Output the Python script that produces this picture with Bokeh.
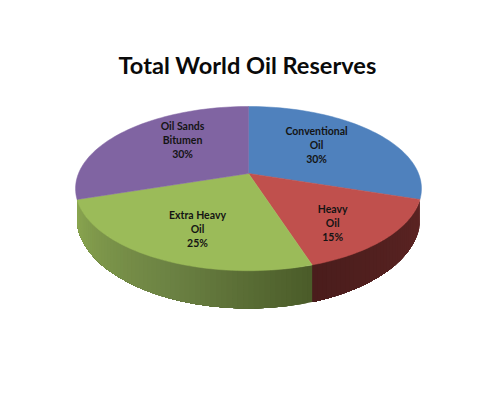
import math
from bokeh.plotting import figure
from bokeh.embed import file_html
from bokeh.resources import INLINE
from bokeh.core.properties import value

# --- chart data ---
title = "Total World Oil Reserves"
categories = ["Conventional\nOil", "Heavy\nOil", "Extra Heavy\nOil", "Oil Sands\nBitumen"]
shares = [30, 15, 25, 30]
colors = ["#4f81bd", "#c0504d", "#9bbb59", "#8064a2"]

# --- look of the sides: (fraction across the wedge, colour) ---
side_stops = {
    1: [(0.0, (0x5c, 0x24, 0x23)), (1.0, (0x4a, 0x1d, 0x1c))],
    2: [(0.0, (0x4a, 0x5b, 0x29)), (0.45, (0x6c, 0x82, 0x43)), (1.0, (0x8a, 0xa6, 0x50))],
}

# --- projection of the tilted disc, in page pixels ---
CX, APEX_Y, RX, K, B = 248.0, 173.0, 170.0, 0.184, -47.5
BOT_CY, BOT_RX, BOT_RY = 217.0, 172.0, 91.0
# label anchors relative to each wedge: (angle shift in degrees, radius on the unit disc)
label_anchor = [(-6.4, 0.581), (6.3, 0.711), (-3.6, 0.67), (11, 0.616)]
LINE_STEP = 14.0
FONT = "Lato"


def project(r, deg):
    t = math.radians(deg)
    s, c = r * math.sin(t), r * math.cos(t)
    d = 1 + K * c
    return CX + RX * s / d, (APEX_Y + B * c) / d


def bottom_y(x):
    u = min(abs(x - CX) / BOT_RX, 1.0)
    return BOT_CY + BOT_RY * math.sqrt(1 - u * u)


def lerp_color(stops, f):
    for (f0, c0), (f1, c1) in zip(stops, stops[1:]):
        if f <= f1:
            w = (f - f0) / (f1 - f0)
            break
    rgb = [round(a + (b - a) * w) for a, b in zip(c0, c1)]
    return "#%02x%02x%02x" % tuple(rgb)


total = sum(shares)
edges = [0.0]
for v in shares:
    edges.append(edges[-1] + 360.0 * v / total)

p = figure(
    width=479, height=384, title=title, toolbar_location=None, output_backend="svg",
    x_range=(0, 479), y_range=(384, 80), x_axis_location=None, y_axis_location=None,
    min_border_left=0, min_border_right=0, min_border_bottom=0, min_border_top=80,
    outline_line_color=None, background_fill_color="white", border_fill_color="white",
    tools="",
)
p.grid.visible = False
p.title.align = "left"
p.title.offset = 118
p.title.text_font = FONT
p.title.text_font_size = "23.6px"
p.title.text_font_style = "bold"
p.title.text_color = "#0a0a0a"
p.title.standoff = 4

# side wall: each strip runs on under the next one, so that no seams show
sx, sy, sc = [], [], []
for i, stops in side_stops.items():
    a0, a1 = edges[i], edges[i + 1]
    n = int((a1 - a0) / 1.5)
    angles = [a0 + (a1 - a0) * j / n for j in range(n + 1)]
    pts = [project(1, a) for a in angles]
    for j in range(n):
        tail = pts[j:]
        sx.append([q[0] for q in tail] + [q[0] for q in reversed(tail)])
        sy.append([q[1] for q in tail] + [bottom_y(q[0]) for q in reversed(tail)])
        sc.append(lerp_color(stops, (j + 0.5) / n))
p.patches(sx, sy, fill_color=sc, line_color=None)

# top face
fx, fy = [], []
for i in range(len(shares)):
    pts = [project(1, edges[i] + (edges[i + 1] - edges[i]) * j / 60) for j in range(61)]
    fx.append([CX] + [q[0] for q in pts])
    fy.append([APEX_Y] + [q[1] for q in pts])
p.patches(fx, fy, fill_color=colors, line_color=colors, line_width=0.5)

# labels
tx, ty, tt = [], [], []
for i, cat in enumerate(categories):
    mid = (edges[i] + edges[i + 1]) / 2 + label_anchor[i][0]
    x, y = project(label_anchor[i][1], mid)
    lines = cat.split("\n") + [f"{shares[i]}%"]
    for n, line in enumerate(lines):
        tx.append(x)
        ty.append(y + (n - 1) * LINE_STEP)
        tt.append(line)
p.text(tx, ty, text=tt, text_font=value(FONT), text_font_size="10.5px", text_font_style="bold",
       text_color="#141414", text_align="center", text_baseline="middle")

open("out.html", "w").write(file_html(p, INLINE))
